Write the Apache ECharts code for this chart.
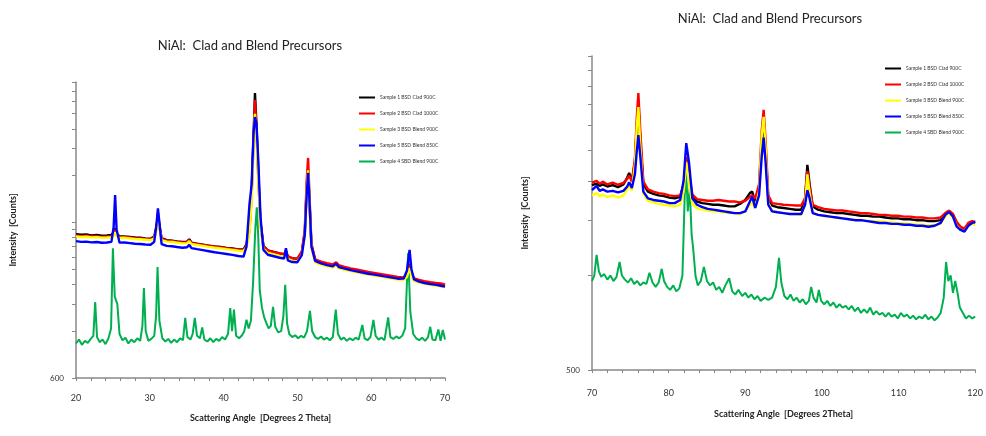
<!DOCTYPE html>
<html>
<head>
<meta charset="utf-8">
<script src="https://cdn.jsdelivr.net/npm/echarts@6/dist/echarts.min.js"></script>
<style>
  html, body { margin: 0; padding: 0; background: #fff; }
  #chart { width: 986px; height: 436px; }
</style>
</head>
<body>
<div id="chart"></div>
<script>
var chartDom = document.getElementById('chart');
var myChart = echarts.init(chartDom);

var seriesNames = ['Sample 1 BSD Clad 900C', 'Sample 2 BSD Clad 1000C', 'Sample 3 BSD Blend 900C', 'Sample 5 BSD Blend 850C', 'Sample 4 SBD Blend 900C'];
var seriesColors = ['#000000', '#ff0000', '#ffff00', '#0000ff', '#00b050'];

// 20-70 deg scan, clad / blend samples
var anglesL = [20, 20.7, 21.4, 22.1, 22.8, 23.5, 24.2, 24.8, 25.1, 25.3, 25.5, 25.9, 26.6, 27.3, 28, 28.7, 29.4, 30.1, 30.6, 30.9,
  31.1, 31.3, 31.6, 32.3, 33, 33.7, 34.4, 35.05, 35.35, 35.65, 36.4, 37.2, 38, 38.8, 39.6, 40.4, 41.2, 42, 42.7, 43.1,
  43.5, 43.8, 44.05, 44.25, 44.45, 44.7, 45, 45.4, 46, 46.8, 47.6, 48.2, 48.45, 48.7, 49.3, 50, 50.6, 51, 51.25, 51.45,
  51.65, 51.9, 52.4, 53.2, 54, 54.8, 55.25, 55.6, 56.4, 57.2, 58, 58.8, 59.6, 60.4, 61.2, 62, 62.8, 63.6, 64.4, 64.85,
  65.2, 65.45, 65.8, 66.5, 67.2, 68, 68.8, 69.4, 70];
var s1L = [5050, 5000, 5020, 4960, 4990, 4930, 4950, 4980, 5200, 5500, 5050, 4900, 4870, 4850, 4800, 4790, 4740, 4720, 4880, 5600,
  6600, 5700, 4750, 4620, 4580, 4530, 4490, 4520, 4680, 4450, 4380, 4320, 4260, 4200, 4170, 4120, 4080, 4030, 4020, 4350,
  5700, 9500, 21000, 40800, 26000, 12500, 6000, 4250, 3960, 3880, 3790, 3740, 3950, 3620, 3520, 3490, 3880, 5100, 9800, 13000,
  7800, 4300, 3450, 3330, 3240, 3180, 3300, 3150, 3070, 3000, 2950, 2900, 2850, 2800, 2760, 2720, 2680, 2640, 2620, 2760,
  3250, 2850, 2580, 2520, 2480, 2430, 2400, 2380, 2350];
var s2L = [4950, 4900, 4930, 4880, 4900, 4850, 4870, 4890, 5050, 5400, 4980, 4830, 4850, 4800, 4760, 4740, 4700, 4680, 4800, 5500,
  6900, 5800, 4700, 4580, 4560, 4500, 4460, 4480, 4620, 4420, 4360, 4300, 4240, 4190, 4150, 4100, 4060, 4010, 4000, 4250,
  5300, 8800, 20000, 36800, 24000, 11500, 5800, 4200, 3950, 3870, 3800, 3750, 3900, 3640, 3540, 3520, 3900, 5400, 11000, 15600,
  8600, 4400, 3480, 3360, 3280, 3220, 3330, 3190, 3110, 3040, 2990, 2940, 2880, 2840, 2800, 2760, 2720, 2680, 2660, 2780,
  3200, 2880, 2620, 2560, 2520, 2480, 2450, 2430, 2400];
var s3L = [4880, 4840, 4860, 4810, 4830, 4790, 4800, 4820, 4950, 5200, 4900, 4770, 4780, 4740, 4700, 4680, 4650, 4620, 4720, 5300,
  6400, 5500, 4620, 4520, 4490, 4440, 4400, 4420, 4550, 4360, 4300, 4240, 4180, 4130, 4090, 4040, 4000, 3950, 3930, 4150,
  5100, 8200, 17000, 30000, 22000, 11000, 5600, 4050, 3820, 3740, 3660, 3620, 3800, 3500, 3410, 3380, 3700, 4900, 9500, 13000,
  7500, 4100, 3320, 3210, 3140, 3080, 3180, 3050, 2980, 2920, 2870, 2820, 2770, 2730, 2690, 2650, 2610, 2580, 2560, 2680,
  3050, 2740, 2520, 2460, 2420, 2380, 2350, 2330, 2300];
var s5L = [4550, 4500, 4520, 4470, 4490, 4440, 4460, 4500, 5600, 9000, 5400, 4450, 4460, 4420, 4380, 4360, 4330, 4310, 4500, 5800,
  7400, 6000, 4350, 4240, 4220, 4170, 4130, 4160, 4300, 4100, 4040, 3980, 3920, 3860, 3810, 3760, 3710, 3650, 3620, 4200,
  7800, 10500, 22000, 28600, 26000, 15000, 6500, 4000, 3720, 3640, 3560, 3520, 4100, 3420, 3340, 3330, 3700, 5000, 9000, 12500,
  8000, 4200, 3400, 3270, 3190, 3130, 3260, 3100, 3030, 2960, 2910, 2860, 2810, 2770, 2730, 2690, 2650, 2610, 2620, 2950,
  4000, 3000, 2580, 2500, 2450, 2410, 2380, 2350, 2320];

var anglesLG = [20, 20.4, 20.8, 21.2, 21.6, 22, 22.35, 22.6, 22.85, 23.2, 23.6, 24, 24.4, 24.75, 25, 25.25, 25.6, 25.9, 26.3, 26.7,
  27.1, 27.5, 27.9, 28.3, 28.7, 29, 29.2, 29.45, 29.8, 30.2, 30.6, 30.85, 31.05, 31.3, 31.7, 32.1, 32.5, 32.9, 33.3, 33.7,
  34.1, 34.5, 34.8, 35.1, 35.5, 35.8, 36.1, 36.4, 36.8, 37.1, 37.4, 37.8, 38.2, 38.6, 39, 39.4, 39.8, 40.2, 40.6, 40.9,
  41.15, 41.4, 41.7, 42.1, 42.5, 42.8, 43.1, 43.4, 43.7, 44, 44.3, 44.5, 44.7, 44.9, 45.2, 45.5, 45.8, 46.1, 46.4, 46.7,
  47, 47.4, 47.8, 48.1, 48.35, 48.6, 48.9, 49.3, 49.7, 50.1, 50.5, 50.9, 51.3, 51.7, 52, 52.4, 52.8, 53.2, 53.6, 54,
  54.4, 54.8, 55.2, 55.5, 55.9, 56.3, 56.7, 57.1, 57.5, 57.9, 58.3, 58.8, 59.1, 59.5, 59.9, 60.3, 60.6, 61, 61.4, 61.8,
  62.3, 62.6, 63, 63.4, 63.8, 64.2, 64.6, 65, 65.3, 65.7, 66.1, 66.5, 66.9, 67.3, 67.7, 68, 68.3, 68.7, 69.1, 69.4,
  69.7, 70];
var s4L = [1000, 1060, 980, 1040, 1010, 1070, 1120, 1850, 1100, 1020, 1060, 990, 1080, 1250, 4100, 2000, 1790, 1150, 1050, 1090,
  1000, 1060, 1020, 1080, 1040, 1300, 2270, 1200, 1040, 1070, 1120, 1500, 3100, 1400, 1080, 1030, 1070, 1010, 1060, 1020,
  1080, 1050, 1460, 1100, 1060, 1150, 1460, 1120, 1080, 1270, 1060, 1030, 1080, 1020, 1070, 1040, 1100, 1060, 1150, 1690,
  1200, 1650, 1120, 1080, 1130, 1200, 1420, 1250, 1400, 2500, 5500, 7500, 4800, 2200, 1700, 1470, 1350, 1250, 1300, 1720,
  1280, 1180, 1200, 1500, 2380, 1350, 1150, 1100, 1130, 1080, 1120, 1090, 1200, 1620, 1200, 1100, 1070, 1110, 1060, 1090,
  1050, 1100, 1650, 1150, 1060, 1090, 1040, 1080, 1050, 1090, 1060, 1315, 1080, 1050, 1100, 1420, 1120, 1060, 1090, 1050,
  1470, 1100, 1070, 1110, 1080, 1120, 1250, 3820, 1600, 1150, 1080, 1050, 1090, 1040, 1100, 1280, 1060, 1050, 1230, 1040,
  1220, 1060];

// 70-120 deg scan
var anglesR = [70, 70.6, 71, 71.4, 72, 72.7, 73.4, 74.1, 74.6, 74.85, 75.2, 75.6, 75.85, 76.05, 76.3, 76.7, 77.3, 78, 78.7, 79.4,
  80.1, 80.8, 81.5, 81.95, 82.3, 82.65, 83.1, 83.7, 84.4, 85.1, 85.8, 86.5, 87.2, 87.9, 88.6, 89.3, 90, 90.6, 90.9, 91.3,
  91.8, 92.15, 92.4, 92.65, 93, 93.5, 94.2, 95, 95.8, 96.6, 97.3, 97.8, 98.1, 98.4, 98.8, 99.5, 100.3, 101.1, 101.9, 102.7,
  103.5, 104.3, 105.1, 105.9, 106.7, 107.5, 108.3, 109.1, 109.9, 110.7, 111.5, 112.3, 113.1, 113.9, 114.7, 115.5, 116.1, 116.6, 117.1, 117.6,
  118.1, 118.6, 119.1, 119.6, 120];
var s1R = [1940, 1960, 1930, 1950, 1920, 1940, 1910, 1950, 2050, 2120, 2000, 2300, 3000, 3500, 2700, 1950, 1850, 1820, 1800, 1790,
  1770, 1760, 1780, 1950, 2300, 2050, 1780, 1720, 1700, 1690, 1680, 1680, 1670, 1660, 1660, 1690, 1740, 1830, 1850, 1720,
  1900, 2700, 3100, 2500, 1760, 1670, 1650, 1640, 1630, 1620, 1620, 1750, 2250, 1950, 1660, 1620, 1600, 1590, 1580, 1580,
  1570, 1560, 1550, 1550, 1540, 1540, 1530, 1520, 1520, 1510, 1510, 1500, 1500, 1490, 1490, 1500, 1570, 1600, 1560, 1470,
  1420, 1400, 1460, 1480, 1470];
var s2R = [1975, 2000, 1960, 1990, 1950, 1975, 1945, 1970, 2030, 2080, 1990, 2350, 3200, 3810, 2900, 1990, 1880, 1850, 1830, 1820,
  1800, 1790, 1800, 1920, 2380, 2100, 1810, 1750, 1740, 1730, 1730, 1740, 1730, 1720, 1720, 1710, 1730, 1780, 1800, 1760,
  1950, 2900, 3370, 2700, 1800, 1700, 1690, 1680, 1675, 1670, 1670, 1760, 2150, 1900, 1680, 1650, 1630, 1620, 1610, 1610,
  1600, 1590, 1580, 1580, 1570, 1560, 1560, 1550, 1550, 1540, 1540, 1530, 1530, 1520, 1520, 1530, 1580, 1610, 1570, 1480,
  1430, 1410, 1470, 1490, 1480];
var s3R = [1800, 1830, 1790, 1810, 1780, 1800, 1770, 1800, 1880, 1950, 1860, 2250, 3000, 3440, 2600, 1820, 1730, 1710, 1690, 1680,
  1670, 1660, 1680, 1850, 2300, 1980, 1690, 1640, 1620, 1610, 1600, 1600, 1590, 1580, 1580, 1570, 1600, 1680, 1700, 1640,
  1850, 2800, 3200, 2550, 1700, 1610, 1590, 1580, 1570, 1565, 1560, 1680, 2100, 1830, 1590, 1560, 1545, 1535, 1525, 1520,
  1515, 1505, 1500, 1495, 1490, 1485, 1480, 1475, 1470, 1465, 1460, 1455, 1450, 1445, 1445, 1460, 1540, 1580, 1530, 1440,
  1400, 1380, 1440, 1460, 1450];
var s5R = [1870, 1930, 1860, 1880, 1850, 1860, 1840, 1860, 1920, 1980, 1900, 2100, 2500, 2800, 2400, 1850, 1760, 1740, 1730, 1720,
  1700, 1700, 1740, 2000, 2640, 2300, 1760, 1680, 1650, 1630, 1620, 1610, 1600, 1590, 1580, 1580, 1600, 1720, 1780, 1640,
  1800, 2400, 2750, 2300, 1680, 1600, 1590, 1580, 1570, 1570, 1570, 1680, 1870, 1760, 1580, 1560, 1550, 1540, 1530, 1520,
  1510, 1500, 1500, 1490, 1480, 1470, 1470, 1460, 1460, 1450, 1450, 1440, 1440, 1430, 1440, 1470, 1560, 1594, 1540, 1430,
  1396, 1380, 1440, 1470, 1480];

var anglesRG = [70, 70.3, 70.6, 70.9, 71.2, 71.6, 72, 72.4, 72.8, 73.2, 73.6, 73.9, 74.3, 74.7, 75.1, 75.5, 75.9, 76.3, 76.7, 77.1,
  77.5, 77.9, 78.3, 78.7, 79.1, 79.4, 79.8, 80.2, 80.6, 81, 81.4, 81.8, 82.1, 82.3, 82.5, 82.75, 83, 83.2, 83.5, 83.8,
  84.2, 84.6, 85, 85.4, 85.8, 86.2, 86.6, 87, 87.4, 87.9, 88.3, 88.7, 89.1, 89.6, 90, 90.4, 90.8, 91.2, 91.6, 92,
  92.5, 93, 93.5, 94, 94.4, 94.7, 95.1, 95.5, 95.9, 96.3, 96.7, 97.1, 97.5, 97.9, 98.3, 98.6, 98.9, 99.3, 99.6, 99.9,
  100.3, 100.7, 101.1, 101.5, 101.9, 102.3, 102.7, 103.1, 103.5, 103.9, 104.3, 104.7, 105.1, 105.5, 105.9, 106.3, 106.7, 107.1, 107.5, 107.9,
  108.3, 108.7, 109.1, 109.5, 109.9, 110.3, 110.7, 111.1, 111.5, 111.9, 112.3, 112.7, 113.1, 113.5, 113.9, 114.3, 114.7, 115.1, 115.5, 115.9,
  116.2, 116.5, 116.8, 117.1, 117.4, 117.7, 118, 118.4, 118.8, 119.2, 119.6, 120];
var s4R = [960, 1000, 1163, 1030, 990, 1010, 970, 1000, 960, 990, 1104, 1000, 970, 950, 980, 940, 960, 930, 950, 940,
  1020, 950, 920, 950, 1050, 960, 920, 900, 930, 890, 910, 1000, 1800, 2120, 1600, 1900, 1350, 1222, 1000, 930,
  960, 1065, 960, 930, 950, 900, 920, 880, 930, 980, 890, 870, 900, 860, 880, 850, 870, 840, 860, 830,
  850, 836, 850, 920, 1138, 950, 860, 840, 870, 830, 850, 820, 840, 810, 830, 920, 850, 820, 900, 830,
  810, 830, 800, 820, 790, 810, 790, 800, 780, 800, 770, 790, 760, 780, 760, 790, 750, 770, 750, 760,
  740, 760, 740, 750, 730, 760, 740, 750, 730, 745, 725, 740, 730, 750, 725, 740, 720, 735, 760, 850,
  1104, 960, 1000, 880, 960, 880, 790, 760, 730, 745, 730, 740];

// log axis tick positions (Excel style: multiples of the minimum)
var yTicksL = [600, 1200, 1800, 2400, 3000, 3600, 4200, 4800, 5400, 6000, 12000, 18000, 24000, 30000, 36000, 42000, 48000];
var yTicksR = [500, 1000, 1500, 2000, 2500, 3000, 3500, 4000, 4500, 5000];

function pairs(xs, ys) {
  return xs.map(function (x, i) { return [x, ys[i]]; });
}

var fontName = 'Lato';
var order = [0, 1, 2, 3, 4];
var dataL = [pairs(anglesL, s1L), pairs(anglesL, s2L), pairs(anglesL, s3L), pairs(anglesL, s5L), pairs(anglesLG, s4L)];
var dataR = [pairs(anglesR, s1R), pairs(anglesR, s2R), pairs(anglesR, s3R), pairs(anglesR, s5R), pairs(anglesRG, s4R)];

var series = [];
order.forEach(function (i) {
  series.push({
    name: seriesNames[i], type: 'line', xAxisIndex: 0, yAxisIndex: 0,
    data: dataL[i], showSymbol: false, color: seriesColors[i],
    lineStyle: { width: i === 4 ? 2 : 2.4 }, z: i === 4 ? 1 : 2
  });
});
order.forEach(function (i) {
  series.push({
    name: seriesNames[i], type: 'line', xAxisIndex: 1, yAxisIndex: 1,
    data: dataR[i], showSymbol: false, color: seriesColors[i],
    lineStyle: { width: i === 4 ? 2 : 2.4 }, z: i === 4 ? 1 : 2
  });
});

function xAxis(idx, min, max) {
  return {
    type: 'value', gridIndex: idx, min: min, max: max, interval: 10,
    name: idx === 0 ? 'Scattering Angle  [Degrees 2 Theta]' : 'Scattering Angle  [Degrees 2Theta]',
    nameLocation: 'middle', nameGap: idx === 0 ? 36 : 40,
    nameTextStyle: { fontFamily: fontName, fontSize: 9, fontWeight: 'bold', color: '#222' },
    axisLine: { lineStyle: { color: '#888', width: 1.5 } },
    axisTick: { show: true, length: 3, lineStyle: { color: '#888' } },
    minorTick: { show: true, splitNumber: 5, length: 3, lineStyle: { color: '#888' } },
    axisLabel: { fontFamily: fontName, fontSize: 9, color: '#333', margin: idx === 0 ? 16 : 19 },
    splitLine: { show: false }
  };
}

function yAxis(idx, min, max, ticks) {
  return {
    type: 'log', gridIndex: idx, min: min, max: max, logBase: 10,
    name: 'Intensity  [Counts]', nameLocation: 'middle', nameGap: idx === 0 ? 58 : 62,
    nameTextStyle: { fontFamily: fontName, fontSize: 9, fontWeight: 'bold', color: '#222' },
    axisLine: { show: true, lineStyle: { color: '#888', width: 1.5 } },
    axisTick: { show: true, length: 4, customValues: ticks, lineStyle: { color: '#888' } },
    axisLabel: { fontFamily: fontName, fontSize: 8, color: '#333', margin: 12, customValues: [min] },
    splitLine: { show: false }
  };
}

var option = {
  animation: false,
  backgroundColor: '#fff',
  title: [
    { text: 'NiAl:  Clad and Blend Precursors', left: 245, top: 34, textAlign: 'center',
      textStyle: { fontFamily: fontName, fontSize: 13, fontWeight: 'normal', color: '#222' } },
    { text: 'NiAl:  Clad and Blend Precursors', left: 765, top: 7, textAlign: 'center',
      textStyle: { fontFamily: fontName, fontSize: 13, fontWeight: 'normal', color: '#222' } }
  ],
  legend: [
    { orient: 'vertical', left: 354, top: 90, itemWidth: 16, itemHeight: 2, itemGap: 11, icon: 'rect',
      data: seriesNames, textStyle: { fontFamily: fontName, fontSize: 5, color: '#333' } },
    { orient: 'vertical', left: 880, top: 61, itemWidth: 16, itemHeight: 2, itemGap: 11, icon: 'rect',
      data: seriesNames, textStyle: { fontFamily: fontName, fontSize: 5, color: '#333' } }
  ],
  grid: [
    { left: 76, right: 541, top: 82, bottom: 58 },
    { left: 592, right: 8, top: 56, bottom: 66 }
  ],
  xAxis: [xAxis(0, 20, 70), xAxis(1, 70, 120)],
  yAxis: [yAxis(0, 600, 48000, yTicksL), yAxis(1, 500, 5000, yTicksR)],
  series: series
};

option && myChart.setOption(option);
</script>
</body>
</html>
